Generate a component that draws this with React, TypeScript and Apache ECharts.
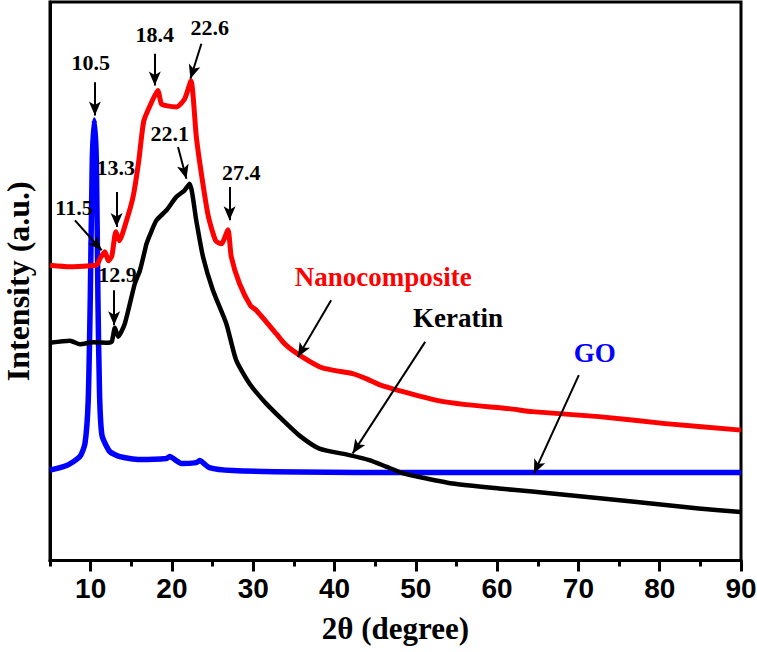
import React, { useEffect, useRef } from 'react';
import * as echarts from 'echarts';

// GO
const goX = [5, 7.05, 8.68, 9.3, 9.7, 9.95, 10.2, 10.45, 10.7, 10.9, 11.1, 11.4, 12.36, 13.6, 16.0, 19.3, 19.7, 21.2, 23.0, 23.4, 24.6, 27.5, 35.7, 50, 70, 90];
const goY = [90.5, 95, 104, 117, 160, 260, 400, 441, 400, 260, 165, 125, 109, 104, 101, 102, 104, 97, 98, 100, 93, 90, 88.5, 88, 88, 88];

// Keratin
const kerX = [5, 7.45, 8.68, 10.31, 12.16, 12.6, 12.98, 13.38, 14.2, 15.43, 16.05, 16.66, 16.87, 17.5, 18.1, 19.32, 20.55, 21.5, 22.18, 23.0, 23.82, 25.04, 26.69, 27.9, 29.55, 31.6, 33.64, 35.69, 38.14, 41.82, 44.28, 46.33, 48.37, 50.42, 54.5, 60.24, 64.3, 70.46, 76.6, 80.7, 84.8, 90];
const kerY = [218, 220, 216.5, 218.5, 218, 219, 233, 224, 237, 277, 290, 310, 317, 330, 340.5, 350.5, 364, 370, 377, 340, 304, 270.5, 237, 200.5, 177, 157, 140.5, 125, 112, 105.5, 100.5, 94, 87.5, 83.5, 77, 72, 69, 64, 59, 55.5, 52, 48.5];

// Nanocomposite
const nanoX = [5, 7.45, 9.91, 10.77, 11.2, 11.75, 12.18, 12.61, 13.1, 13.53, 14.33, 15.22, 15.92, 16.54, 17.46, 18.26, 18.71, 19.42, 20.59, 21.57, 22.34, 23.0, 23.66, 24.46, 25.38, 26.08, 26.89, 27.3, 28.32, 29.67, 30.37, 32.83, 33.97, 35.69, 38.14, 39.77, 42.23, 43.87, 45.5, 47.96, 52.47, 56.15, 61.46, 64.32, 72.51, 80.7, 90];
const nanoY = [295.5, 294, 295, 296, 303, 309, 300, 305, 329, 320, 338, 364, 400, 440, 458, 470.5, 457, 455, 454, 462, 480, 424, 385, 345, 320, 317, 331, 304, 277, 255, 250.5, 227, 216, 205.5, 194, 190.5, 187, 182, 176, 170, 160.5, 156, 152, 149, 144, 137, 130.5];

// Axis ticks
const majorTicks = [10, 20, 30, 40, 50, 60, 70, 80, 90];
const minorTicks = [5, 15, 25, 35, 45, 55, 65, 75, 85];

// Peak annotations
const peakLabels = ['10.5', '18.4', '22.6', '22.1', '13.3', '11.5', '12.9', '27.4'];
const peakLabelX = [10.0, 17.89, 24.64, 19.73, 13.08, 7.95, 13.29, 28.53];
const peakLabelY = [498, 526.5, 533, 427.5, 393, 353.8, 286.5, 388];

// Sample name annotations
const nameLabels = ['Nanocomposite', 'Keratin', 'GO'];
const nameColors = ['#ff0000', '#000000', '#0000ff'];
const nameLabelX = [45.99, 55.2, 72.02];
const nameLabelY = [283.8, 242.5, 208];

// Arrows: start -> tip
const arrowX1 = [10.52, 17.89, 23.62, 20.75, 13.19, 8.07, 12.89, 27.09, 39.58, 51.15, 70.05];
const arrowY1 = [478.8, 507.2, 517.2, 413.8, 368.8, 340.5, 270.5, 373.8, 260.5, 218.8, 185.5];
const arrowX2 = [10.52, 17.89, 22.27, 21.78, 13.19, 11.35, 12.89, 27.09, 35.48, 42.23, 64.53];
const arrowY2 = [445.5, 475.5, 482.2, 382.2, 333.8, 310.5, 235.5, 340.5, 203.8, 107.2, 87.2];

const zip = (xs: number[], ys: number[]) => xs.map((x, i) => [x, ys[i]]);

export default function App() {
  const ref = useRef<HTMLDivElement>(null);
  useEffect(() => {
    const chart = echarts.init(ref.current!, null, { renderer: 'svg' });
    const serif = "'Liberation Serif', 'Times New Roman', serif";
    const sans = "'Liberation Sans', Arial, sans-serif";
    const textLabel = {
      show: true, position: 'inside', formatter: '{b}', opacity: 1,
      fontFamily: serif, fontWeight: 'bold', textBorderWidth: 0, textBorderColor: 'transparent'
    };
    chart.setOption({
      animation: false,
      backgroundColor: '#ffffff',
      grid: {
        left: 50, right: 16, top: 2, bottom: 91.5,
        containLabel: false, outerBoundsMode: 'none',
        show: true, borderColor: '#000', borderWidth: 3, backgroundColor: 'transparent'
      },
      xAxis: [
        {
          type: 'value', min: 5, max: 90, position: 'bottom',
          axisLine: { show: true, lineStyle: { color: '#000', width: 3 } },
          axisTick: { show: true, customValues: majorTicks, length: 11, lineStyle: { color: '#000', width: 3 } },
          axisLabel: {
            show: true, customValues: majorTicks, margin: 14,
            fontFamily: sans, fontWeight: 'bold', fontSize: 28, color: '#000'
          },
          splitLine: { show: false },
          name: '2θ (degree)', nameLocation: 'middle', nameGap: 52,
          nameTextStyle: { fontFamily: serif, fontWeight: 'bold', fontSize: 31, color: '#000' }
        },
        {
          type: 'value', min: 5, max: 90, position: 'bottom',
          axisLine: { show: false },
          axisTick: { show: true, customValues: minorTicks, length: 6, lineStyle: { color: '#000', width: 3 } },
          axisLabel: { show: false },
          splitLine: { show: false }
        }
      ],
      yAxis: {
        type: 'value', min: 0, max: 559,
        axisLine: { show: true, lineStyle: { color: '#000', width: 3 } },
        axisTick: { show: false },
        axisLabel: { show: false },
        splitLine: { show: false },
        name: 'Intensity (a.u.)', nameLocation: 'middle', nameGap: 16, nameRotate: 90,
        nameTextStyle: { fontFamily: serif, fontWeight: 'bold', fontSize: 32, color: '#000' }
      },
      series: [
        {
          name: 'GO', type: 'line', xAxisIndex: 0, data: zip(goX, goY), showSymbol: false, smooth: 0.2,
          lineStyle: { color: '#0000ff', width: 5.5, join: 'round' }, silent: true, z: 2
        },
        {
          name: 'Keratin', type: 'line', xAxisIndex: 0, data: zip(kerX, kerY), showSymbol: false, smooth: 0.2,
          lineStyle: { color: '#000000', width: 4.5, join: 'round' }, silent: true, z: 3
        },
        {
          name: 'Nanocomposite', type: 'line', xAxisIndex: 0, data: zip(nanoX, nanoY), showSymbol: false, smooth: 0.2,
          lineStyle: { color: '#ff0000', width: 5, join: 'round' }, silent: true, z: 4
        },
        {
          name: 'arrows', type: 'line', xAxisIndex: 0, data: [], silent: true, z: 5,
          markLine: {
            silent: true, animation: false,
            symbol: ['none', 'arrow'], symbolSize: [9, 14],
            label: { show: false },
            lineStyle: { color: '#000', width: 2, type: 'solid', opacity: 1 },
            itemStyle: { color: '#000' },
            emphasis: { disabled: true },
            data: arrowX1.map((x, i) => [
              { coord: [x, arrowY1[i]] },
              { coord: [arrowX2[i], arrowY2[i]] }
            ])
          }
        },
        {
          name: 'peakLabels', type: 'scatter', xAxisIndex: 0, symbolSize: 0, silent: true, z: 6,
          itemStyle: { color: '#000', opacity: 1 },
          data: peakLabels.map((t, i) => ({ name: t, value: [peakLabelX[i], peakLabelY[i]] })),
          label: { ...textLabel, fontSize: 22, color: '#000000' }
        },
        {
          name: 'nameLabels', type: 'scatter', xAxisIndex: 0, symbolSize: 0, silent: true, z: 6,
          itemStyle: { color: '#000', opacity: 1 },
          data: nameLabels.map((t, i) => ({
            name: t, value: [nameLabelX[i], nameLabelY[i]],
            label: { color: nameColors[i] }
          })),
          label: { ...textLabel, fontSize: 27 }
        }
      ]
    });
    return () => chart.dispose();
  }, []);
  return <div ref={ref} style={{ position: 'fixed', left: 0, top: 0, width: 757, height: 652 }} />;
}
